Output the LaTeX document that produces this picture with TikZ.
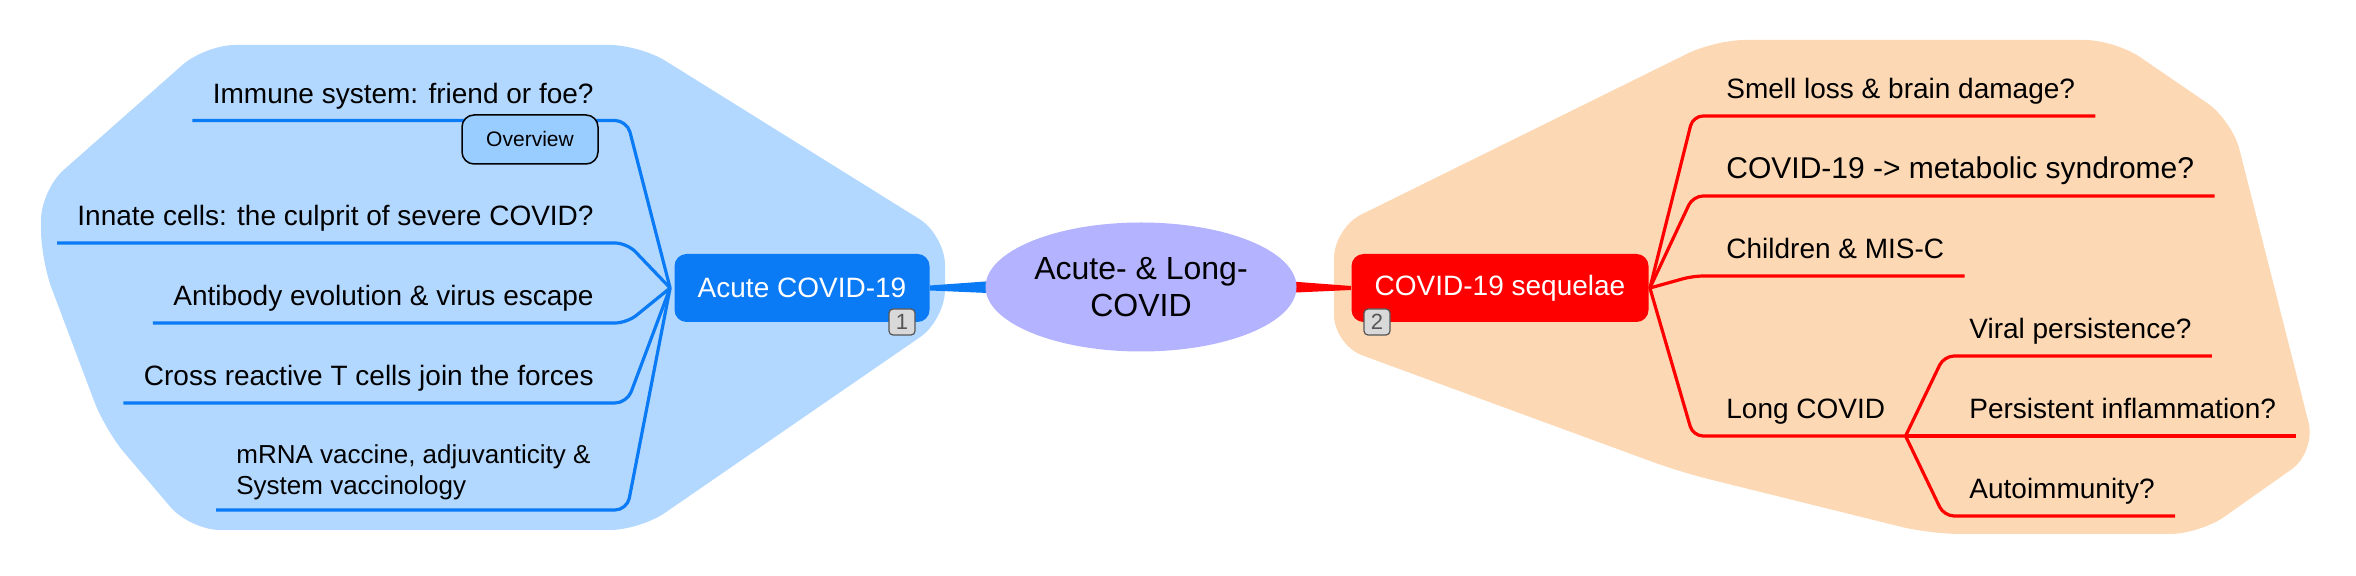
\documentclass[tikz,border=0pt]{standalone}
\usepackage{fontspec}
\setmainfont{Liberation Sans}
\usetikzlibrary{calc,shapes.geometric}
\pgfdeclarelayer{bg}
\pgfsetlayers{bg,main}
\definecolor{acuteblue}{RGB}{10,122,245}
\definecolor{blobblue}{RGB}{179,216,255}
\definecolor{ovblue}{RGB}{153,204,255}
\definecolor{corelav}{RGB}{179,179,255}
\definecolor{blobpeach}{RGB}{253,216,180}
\definecolor{seqred}{RGB}{255,0,0}
\definecolor{badgegray}{RGB}{217,217,217}
\definecolor{badgeline}{RGB}{85,85,85}
\tikzset{
	leaf/.style={inner xsep=10pt, inner ysep=0pt, text depth=8.5pt, font=\fontsize{14}{16.8}\selectfont},
	bline/.style={line width=1.6pt, acuteblue, rounded corners=6pt},
	rline/.style={line width=1.6pt, seqred, rounded corners=5pt},
	topic/.style={rounded corners=6pt, minimum height=34pt, inner sep=0pt, text=white, font=\fontsize{14}{16.8}\selectfont},
	badge/.style={draw=badgeline, fill=badgegray, text=badgeline, line width=0.6pt, rounded corners=2pt, minimum width=13pt, minimum height=13pt, inner sep=0pt, font=\fontsize{11}{11}\selectfont}
}

\begin{document}
\begin{tikzpicture}[x=0.5pt,y=-0.5pt]
			%%%%% START %%%%%
			\useasboundingbox (0,0) rectangle (2356,576);
			
			\begin{pgfonlayer}{bg}
			\fill[blobblue, rounded corners=15pt] (205,45) -- (640,45) -- (945,235) -- (945,320) -- (640,530) -- (190,530) -- (105,430) -- (41,260) -- (41,190) -- cycle;
			\fill[blobpeach, rounded corners=15pt] (1334,228) -- (1715,40) -- (2115,40) -- (2232,120) -- (2316,452) -- (2200,534) -- (1930,534) -- (1680,472) -- (1334,345) -- cycle;
			\end{pgfonlayer}
			
			\node[ellipse, fill=corelav, minimum width=155.5pt, minimum height=64.5pt, inner sep=0pt, align=center, font=\fontsize{16}{18.75}\selectfont] (core) at (1141,287) {Acute- \& Long-\\COVID};
			\node[topic, fill=acuteblue, minimum width=127.5pt] (acute) at (802,288) {Acute COVID-19};
			\node[topic, fill=seqred, minimum width=148.5pt] (seq) at (1500,288) {COVID-19 sequelae};
			
			\begin{pgfonlayer}{bg}
			\fill[acuteblue] ($(acute.east)+(0,-2.5)$) -- ($(core.west)+(14,-6.5)$) -- ($(core.west)+(14,6.5)$) -- ($(acute.east)+(0,2.5)$) -- cycle;
			\fill[seqred] ($(core.east)+(-12,-6)$) -- ($(seq.west)+(0,-2)$) -- ($(seq.west)+(0,2)$) -- ($(core.east)+(-12,6)$) -- cycle;
			\end{pgfonlayer}
			
			% acute side
			\coordinate (hubA) at ($(acute.west)+(-4,0)$);
			\coordinate (kneeA) at (627,0);
			\node[leaf, anchor=south east] (immune) at (614,120.5) {Immune system: friend or foe?};
			\node[leaf, anchor=south east] (innate) at (614,243) {Innate cells: the culprit of severe COVID?};
			\node[leaf, anchor=south east] (antibody) at (614,323) {Antibody evolution \& virus escape};
			\node[leaf, anchor=south east] (cross) at (614,403) {Cross reactive T cells join the forces};
			\node[leaf, anchor=south west, text depth=7.75pt, font=\fontsize{13}{15.5}\selectfont] (mrna) at (216,510) {\begin{tabular}[b]{@{}l@{}}mRNA vaccine, adjuvanticity \&\\System vaccinology\end{tabular}};
			\foreach \leafname in {immune,innate,antibody,cross}
				\draw[bline] (hubA) -- (kneeA |- \leafname.south) -- (\leafname.south west);
			\draw[bline] (hubA) -- (kneeA |- mrna.south) -- (mrna.south west);
			
			\node[draw=black, fill=ovblue, line width=0.75pt, rounded corners=6pt, minimum width=68pt, minimum height=24.5pt, inner sep=0pt, font=\fontsize{10.5}{12}\selectfont] (overview) at (530,139.5) {Overview};
			
			% sequelae side
			\coordinate (hubB) at ($(seq.east)+(1,0)$);
			\coordinate (kneeB) at (1693,0);
			\coordinate (kneeC) at (1944,0);
			\node[leaf, anchor=south west] (smell) at (1706,116) {Smell loss \& brain damage?};
			\node[leaf, anchor=south west, font=\fontsize{15}{18}\selectfont] (metab) at (1706,196) {COVID-19 -> metabolic syndrome?};
			\node[leaf, anchor=south west] (children) at (1706,276) {Children \& MIS-C};
			\node[leaf, anchor=south west] (longc) at (1706,436) {Long COVID};
			\foreach \leafname in {smell,metab,children}
				\draw[rline] (hubB) -- (kneeB |- \leafname.south) -- (\leafname.south east);
			\draw[rline] (hubB) -- (kneeB |- longc.south) -- (longc.south east);
			
			\node[leaf, anchor=south west] (viral) at (1949,356) {Viral persistence?};
			\node[leaf, anchor=south west] (persist) at (1949,436) {Persistent inflammation?};
			\node[leaf, anchor=south west] (autoim) at (1949,516) {Autoimmunity?};
			\draw[rline] (longc.south east) -- (kneeC |- viral.south) -- (viral.south east);
			\draw[rline] (longc.south east) -- (persist.south east);
			\draw[rline] (longc.south east) -- (kneeC |- autoim.south) -- (autoim.south east);
			
			\node[badge] (badgeA) at (902,322) {1};
			\node[badge] (badgeB) at (1377,322) {2};
			%%%%% END %%%%%
\end{tikzpicture}
\end{document}
